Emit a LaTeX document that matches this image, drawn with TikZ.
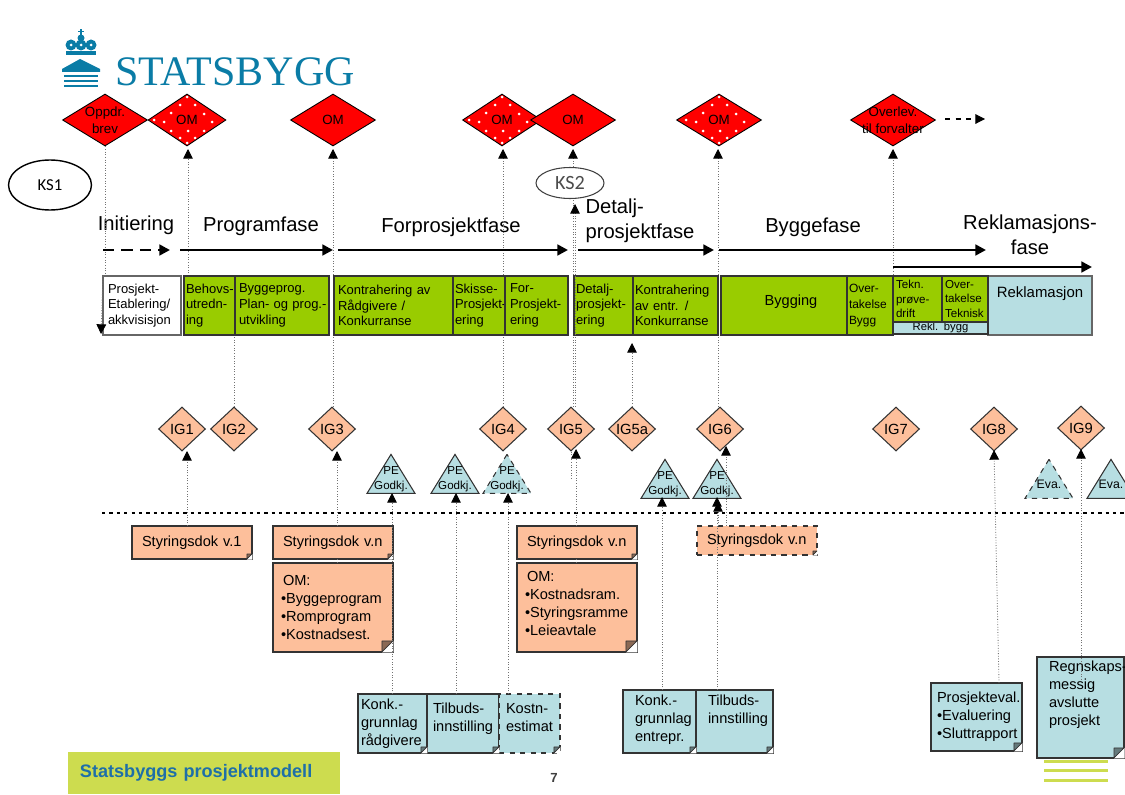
\documentclass[tikz,border=0pt]{standalone}
\usepackage{fontspec}
\setmainfont{Liberation Sans}
\newfontfamily\logofont{Liberation Serif}
\newfontfamily\ksfont{Carlito}
\usetikzlibrary{arrows.meta}
\usetikzlibrary{shapes.geometric}

\definecolor{peach}{HTML}{FDBF9B}
\definecolor{palecyan}{HTML}{B7DEE2}
\definecolor{stagegreen}{HTML}{99CC00}
\definecolor{logoblue}{HTML}{0A7CA6}
\definecolor{legendblue}{HTML}{1E6FA8}
\definecolor{legendgreen}{HTML}{CDDC4F}
\definecolor{edgegray}{HTML}{333333}

\tikzset{
  lead/.style={draw=black!55,line width=0.5pt,densely dotted},
  tip/.style={-{Triangle[length=5.5pt,width=5.5pt,black]}},
  phase/.style={line width=1.5pt,-{Triangle[length=6pt,width=6pt]}},
  phasename/.style={font=\fontsize{11.5}{14}\selectfont,align=left,inner sep=0pt},
  redmark/.style={diamond,draw=black,fill=red,inner sep=0pt,line width=0.5pt,minimum width=1.7cm,minimum height=1.04cm},
  redtext/.style={font=\fontsize{7.6}{9.4}\selectfont,align=center,inner sep=0pt},
  omdots/.style={path picture={
    \foreach \dotx/\doty in {0/-23,-7/-15,8/-15,-16/-7,17/-6,-23/2,25/2,-16/11,1/11,17/11,-7/18,8/18,0/23,-33/0}
      \fill[white] ([shift={(\dotx,\doty)}]path picture bounding box.center) circle (0.3mm);}},
  igmark/.style={diamond,draw=edgegray,fill=peach,inner sep=0pt,line width=0.6pt,minimum width=0.94cm,minimum height=0.88cm},
  igtext/.style={font=\fontsize{8.4}{10}\selectfont,inner sep=0pt},
  petri/.style={isosceles triangle,isosceles triangle stretches,shape border rotate=90,anchor=apex,draw=edgegray,fill=palecyan,
    inner sep=0pt,line width=0.6pt,minimum width=0.96cm,minimum height=0.78cm},
  petext/.style={font=\fontsize{6.6}{8.5}\selectfont,align=center,inner sep=0pt,yshift=0.02cm},
  stagebox/.style={anchor=north west,draw=edgegray,fill=stagegreen,outer sep=0pt,inner xsep=0.04cm,inner ysep=0pt,line width=0.6pt,
    minimum height=1.18cm,align=left,font=\fontsize{7.4}{9}\selectfont,execute at begin node={\exhyphenpenalty=10000}},
  notebox/.style={anchor=north west,draw=edgegray,outer sep=0pt,inner xsep=0.06cm,inner ysep=0pt,line width=0.7pt,
    align=left,font=\fontsize{8.3}{10.2}\selectfont,execute at begin node={\exhyphenpenalty=10000}},
  peachnote/.style={notebox,fill=peach},
  cyannote/.style={notebox,fill=palecyan}
}

\begin{document}
\begin{tikzpicture}[x=0.02cm,y=-0.02cm]
  \useasboundingbox (0,0) rectangle (1125,794);

  %coordinates
  \coordinate (T2) at (188,149);
  \coordinate (T3) at (333,149);
  \coordinate (T4) at (503,149);
  \coordinate (T5) at (573,149);
  \coordinate (T6) at (718,149);
  \coordinate (T7) at (893,149);
  \coordinate (K2) at (575,204);
  \coordinate (Q1) at (101,334);
  \coordinate (I5a) at (632,343);
  \coordinate (W5) at (571,480);
  \coordinate (U1) at (187,451);
  \coordinate (U3) at (337,451);
  \coordinate (U5) at (576,449);
  \coordinate (U6) at (726,446);
  \coordinate (U8) at (994,450);
  \coordinate (U8b) at (999,683);
  \coordinate (U9) at (1081,449);
  \coordinate (U9b) at (1081,680);
  \coordinate (V1) at (392,493);
  \coordinate (V2) at (456,493);
  \coordinate (V3) at (508,493);
  \coordinate (V4) at (662,497);
  \coordinate (V5) at (717,497);
  \coordinate (V6) at (718,502);
  \coordinate (Sa) at (102,513);
  \coordinate (Sb) at (1125,513);
  \coordinate (Da) at (945,119);
  \coordinate (Db) at (985,119);
  \coordinate (Pa) at (103,250);
  \coordinate (Pb) at (170,250);
  \coordinate (Pc) at (180,250);
  \coordinate (Pd) at (333,250);
  \coordinate (Pe) at (338,250);
  \coordinate (Pf) at (568,250);
  \coordinate (Pg) at (578,250);
  \coordinate (Ph) at (714,250);
  \coordinate (Pi) at (719,250);
  \coordinate (Pj) at (986,250);
  \coordinate (Pk) at (893,267);
  \coordinate (Pl) at (1092,267);

  %logo
  \fill[logoblue] (62,69) -- (80,59) -- (100,69) -- (100,72) -- (62,72) -- cycle;
  \foreach \logoy in {75,80,85}
    \fill[logoblue] (64,\logoy) rectangle (98,\logoy+2);
  \fill[logoblue] (66,51) rectangle (96,55);
  \foreach \logox in {71,81,91}{
    \fill[logoblue] (\logox,45) circle (5.5);
    \fill[white] (\logox,45) circle (1.5);
  }
  \fill[logoblue] (81,38) circle (3.5);
  \fill[logoblue] (80.2,29) rectangle (81.8,37);
  \fill[logoblue] (78,31) rectangle (84,32.5);
  \node[at={(115,72)},anchor=west,inner sep=0pt,text=logoblue,font=\logofont\fontsize{23.9}{25}\selectfont] (logoname) {STATSBYGG};

  %red milestones
  \node[at={(105,120)},redmark,label={[redtext]center:{Oppdr.\\brev}}] (oppdr) {};
  \node[at={(187,120)},redmark,omdots,minimum width=1.56cm,label={[redtext]center:OM}] (om1) {};
  \node[at={(333,120)},redmark,label={[redtext]center:OM}] (om2) {};
  \node[at={(502,120)},redmark,omdots,minimum width=1.58cm,label={[redtext]center:OM}] (om3) {};
  \node[at={(573,120)},redmark,label={[redtext]center:OM}] (om4) {};
  \node[at={(719,120)},redmark,omdots,label={[redtext]center:OM}] (om5) {};
  \node[at={(893,120)},redmark,label={[redtext]center:{Overlev.\\til forvalter}}] (overlev) {};

  %check point
  \node[at={(50,185)},ellipse,draw=black,line width=0.8pt,minimum width=1.66cm,minimum height=1cm,inner sep=0pt,font=\ksfont\fontsize{9.5}{11}\selectfont] (ks1) {KS1};

  %IG marks
  \node[at={(182,429)},igmark,label={[igtext]center:IG1}] (ig1) {};
  \node[at={(234,429)},igmark,label={[igtext]center:IG2}] (ig2) {};
  \node[at={(332,429)},igmark,label={[igtext]center:IG3}] (ig3) {};
  \node[at={(503,429)},igmark,label={[igtext]center:IG4}] (ig4) {};
  \node[at={(571,429)},igmark,label={[igtext]center:IG5}] (ig5) {};
  \node[at={(632,429)},igmark,label={[igtext]center:IG5a}] (ig5a) {};
  \node[at={(720,429)},igmark,label={[igtext]center:IG6}] (ig6) {};
  \node[at={(896,429)},igmark,label={[igtext]center:IG7}] (ig7) {};
  \node[at={(994,429)},igmark,label={[igtext]center:IG8}] (ig8) {};
  \node[at={(1081,428)},igmark,label={[igtext]center:IG9}] (ig9) {};

  %phases
  \node[at={(136,225)},phasename] (initiering) {Initiering};
  \node[at={(261,226)},phasename] (programfase) {Programfase};
  \node[at={(451,227)},phasename] (forprosjektfase) {Forprosjektfase};
  \node[at={(640,221)},phasename] (detalj) {Detalj-\\prosjektfase};
  \node[at={(813,227)},phasename] (byggefase) {Byggefase};
  \node[at={(1030,235)},phasename,align=center] (reklfase) {Reklamasjons-\\fase};

  %leads behind the stages
  \draw[lead] (oppdr.south) -- (oppdr.south |- 0,276);
  \draw[lead] (ig2.north) -- (ig2.north |- 0,335);
  \draw[lead,tip] (T2 |- 0,276) -- (T2);
  \draw[lead,tip] (T3 |- ig3.north) -- (T3);
  \draw[lead,tip] (T4 |- ig4.north) -- (T4);
  \draw[lead,tip] (T5 |- ig5.north) -- (T5);
  \draw[lead,tip] (T6 |- ig6.north) -- (T6);
  \draw[lead,tip] (T7 |- 0,335) -- (T7);
  \draw[lead,tip] (ig5a.north) -- (I5a);

  \draw[phase,dash pattern=on 6.5pt off 4pt] (Pa) -- (Pb);
  \draw[phase] (Pc) -- (Pd);
  \draw[phase] (Pe) -- (Pf);
  \draw[phase] (Pg) -- (Ph);
  \draw[phase] (Pi) -- (Pj);
  \draw[phase] (Pk) -- (Pl);
  \draw[dashed,tip,line width=0.6pt] (Da) -- (Db);

  %stages
  \node[at={(103,276)},stagebox,fill=white,draw=black!60,line width=0.9pt,text width=1.36cm,inner xsep=0.1cm] (st1) {Prosjekt-\\Etablering/\\akkvisisjon};
  \node[at={(184,276)},stagebox,text width=0.94cm] (st2) {Behovs-\\utredn-\\ing};
  \node[at={(235,276)},stagebox,text width=1.72cm,inner xsep=0.08cm] (st3) {Byggeprog.\\\mbox{Plan- og prog.-}\\utvikling};
  \node[at={(334,276)},stagebox,text width=2.22cm,inner xsep=0.08cm] (st4) {Kontrahering av\\Rådgivere /\\Konkurranse};
  \node[at={(453,276)},stagebox,text width=0.96cm] (st5) {Skisse-\\Prosjekt-\\ering};
  \node[at={(505,276)},stagebox,text width=1.06cm,inner xsep=0.1cm] (st6) {For-\\Prosjekt-\\ering};
  \node[at={(574,276)},stagebox,text width=1.1cm] (st7) {Detalj-\\prosjekt-\\ering};
  \node[at={(633,276)},stagebox,text width=1.62cm] (st8) {Kontrahering\\av entr. /\\Konkurranse};
  \node[at={(721,276)},stagebox,text width=2.44cm,align=center,font=\fontsize{8.3}{10}\selectfont] (st9) {\hspace*{0.28cm}Bygging\\[-4.4pt]~};
  \node[at={(847,276)},stagebox,text width=0.84cm,font=\fontsize{6.8}{9}\selectfont] (st10) {Over-\\takelse\\Bygg};
  \node[at={(988,276)},stagebox,fill=palecyan,draw=black!60,text width=2cm,align=center,font=\fontsize{8.5}{10}\selectfont] (st13) {Reklamasjon\\[5pt]~};
  \node[at={(893,322)},stagebox,fill=palecyan,minimum height=0.24cm,text width=1.82cm,align=center,font=\fontsize{6.4}{7}\selectfont] (st14) {Rekl. bygg};
  \node[at={(893,276)},stagebox,minimum height=0.92cm,text width=0.86cm,inner xsep=0.06cm,font=\fontsize{6.6}{8.4}\selectfont] (st11) {Tekn.\\prøve-\\drift};
  \node[at={(942,276)},stagebox,minimum height=0.92cm,text width=0.8cm,inner xsep=0.06cm,font=\fontsize{6.6}{8.4}\selectfont] (st12) {Over-\\takelse\\Teknisk};
  \draw[lead,tip] (st1.north west) -- (Q1);

  %KS2 goes over the lead
  \node[at={(570,183)},ellipse,draw=black!75,fill=white,line width=0.6pt,minimum width=1.36cm,minimum height=0.62cm,inner sep=0pt,text=black!70,font=\ksfont\fontsize{11.5}{13}\selectfont] (ks2) {KS2};
  \draw[lead,tip] (K2 |- ig5.north) -- (K2);

  %approval marks
  \node[at={(391,453)},petri,label={[petext]center:{PE\\Godkj.}}] (pe1) {};
  \node[at={(455,453)},petri,label={[petext]center:{PE\\Godkj.}}] (pe2) {};
  \node[at={(507,453)},petri,dashed,label={[petext]center:{PE\\Godkj.}}] (pe3) {};
  \node[at={(665,458)},petri,label={[petext]center:{PE\\Godkj.}}] (pe4) {};
  \node[at={(717,458)},petri,label={[petext]center:{PE\\Godkj.}}] (pe5) {};
  \node[at={(1049,458)},petri,dashed,label={[petext,font=\fontsize{7}{8.5}\selectfont]center:Eva.}] (eva1) {};
  \node[at={(1111,458)},petri,label={[petext,font=\fontsize{7}{8.5}\selectfont]center:Eva.}] (eva2) {};

  %separator
  \draw[line width=1.7pt,dash pattern=on 1.9pt off 2.3pt] (Sa) -- (Sb);

  %documents
  \node[at={(132,526)},peachnote,minimum height=0.66cm,text width=2.2cm,inner xsep=0.1cm] (doc1) {\hspace{0.1cm}Styringsdok v.1};
  \node[at={(273,526)},peachnote,minimum height=0.66cm,text width=2.08cm,inner xsep=0.16cm] (doc2) {\hspace{0.04cm}Styringsdok v.n};
  \node[at={(273,563)},peachnote,minimum height=1.78cm,text width=2.08cm,inner xsep=0.16cm] (doc3) {\hspace{0.04cm}OM:\\•Byggeprogram\\•Romprogram\\•Kostnadsest.};
  \node[at={(517,526)},peachnote,minimum height=0.66cm,text width=2.08cm,inner xsep=0.16cm] (doc4) {\hspace{0.04cm}Styringsdok v.n};
  \node[at={(517,563)},peachnote,minimum height=1.78cm,text width=2.08cm,inner xsep=0.16cm] (doc5) {\hspace{0.04cm}OM:\\•Kostnadsram.\\•Styringsramme\\•Leieavtale\\[-5.6pt]~};
  \node[at={(697,526)},peachnote,dashed,minimum height=0.58cm,text width=2.08cm,inner xsep=0.16cm] (doc6) {\hspace{0.04cm}Styringsdok v.n};
  \node[at={(358,694)},cyannote,minimum height=1.18cm,text width=1.26cm] (doc7) {Konk.-\\grunnlag\\rådgivere};
  \node[at={(427,694)},cyannote,minimum height=1.18cm,text width=1.2cm,inner xsep=0.12cm] (doc8) {Tilbuds-\\innstilling\\[-3pt]~};
  \node[at={(499,694)},cyannote,dashed,minimum height=1.18cm,text width=0.94cm,inner xsep=0.14cm] (doc9) {Kostn-\\estimat\\[-3pt]~};
  \node[at={(623,690)},cyannote,minimum height=1.26cm,text width=0.98cm,inner xsep=0.24cm] (doc10) {Konk.-\\grunnlag\\entrepr.\\[-6.8pt]~};
  \node[at={(696,690)},cyannote,minimum height=1.26cm,text width=1.06cm,inner xsep=0.24cm] (doc11) {Tilbuds-\\innstilling\\[3.6pt]~};
  \node[at={(931,683)},cyannote,minimum height=1.36cm,text width=1.58cm,inner xsep=0.12cm] (doc12) {Prosjekteval.\\•Evaluering\\•Sluttrapport};
  \node[at={(1037,657)},cyannote,minimum height=2.02cm,text width=1.26cm,inner xsep=0.24cm] (doc13) {Regnskaps-\\messig\\avslutte\\prosjekt\\[6pt]~};

  %folds
  \foreach \docname/\foldsize/\foldtint in {doc1/5/peach,doc2/5/peach,doc3/11/peach,doc4/5/peach,doc5/11/peach,doc6/4/peach,
      doc7/6/palecyan,doc8/6/palecyan,doc9/6/palecyan,doc10/6/palecyan,doc11/6/palecyan,doc12/8/palecyan,doc13/10/palecyan}{
    \fill[white] (\docname.south east) ++(-\foldsize,0.5) -- ++(\foldsize+0.5,0) -- ++(0,-\foldsize-0.5) -- cycle;
    \draw[edgegray,fill=\foldtint!55!black,line width=0.4pt,line join=round] (\docname.south east) ++(-\foldsize,0)
      -- ++(\foldsize,-\foldsize) -- ++(-\foldsize,0) -- cycle;
  }

  %leads up to the marks
  \draw[lead,tip] (U1 |- doc1.north) -- (U1);
  \draw[lead,tip] (U3 |- doc2.north) -- (U3);
  \draw[lead] (U3 |- doc2.south) -- (U3 |- doc3.north);
  \draw[lead,tip] (V1 |- doc7.north) -- (V1);
  \draw[lead,tip] (V2 |- doc8.north) -- (V2);
  \draw[lead,tip] (V3 |- doc9.north) -- (V3);
  \draw[lead,tip] (U5 |- doc4.north) -- (U5);
  \draw[lead] (U5 |- doc4.south) -- (U5 |- doc5.north);
  \draw[lead] (ig5.south) -- (W5);
  \draw[lead,tip] (V4 |- doc10.north) -- (V4);
  \draw[lead,tip] (V5 |- doc11.north) -- (V5);
  \draw[lead,tip] (V6 |- doc6.north) -- (V6);
  \draw[lead,tip] (U6 |- doc6.north) -- (U6);
  \draw[lead,tip] (U8b) -- (U8);
  \draw[lead,tip] (U9b) -- (U9);

  %legend
  \node[at={(68,752)},anchor=north west,fill=legendgreen,minimum width=5.44cm,minimum height=0.84cm,outer sep=0pt,inner xsep=0.24cm,inner ysep=0pt,text width=4.96cm,text=legendblue,font=\bfseries\fontsize{10.3}{12}\selectfont] (legend) {Statsbyggs prosjektmodell};
  \node[at={(554,778)},text=black!75,inner sep=0pt,font=\bfseries\fontsize{7.5}{9}\selectfont] (pagenr) {7};
  \foreach \barY in {761,770,780}
    \fill[legendgreen] (1044,\barY-1.5) rectangle (1108,\barY+1.5);
\end{tikzpicture}
\end{document}
